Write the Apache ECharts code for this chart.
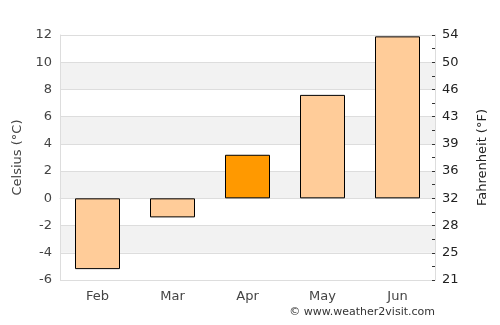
<!DOCTYPE html>
<html><head><meta charset="utf-8">
<script src="https://cdn.jsdelivr.net/npm/echarts@6/dist/echarts.min.js"></script>
<style>html,body{margin:0;padding:0;background:#fff}#c{width:500px;height:325px}</style>
</head><body><div id="c"></div>
<script>
const months = ['Feb','Mar','Apr','May','Jun'];
const celsius = [-5.2, -1.4, 3.2, 7.6, 11.9];
const highlightIndex = 2;
const baseColor = '#ffcc99';
const highlightColor = '#ff9900';
const font = 'DejaVu Sans';

const chart = echarts.init(document.getElementById('c'), null, {renderer:'canvas'});
chart.setOption({
  animation: false,
  backgroundColor: '#fff',
  grid: {left: 60, right: 65, top: 35, bottom: 45, containLabel: false},
  xAxis: {
    type: 'category', data: months,
    axisLine: {show: true, lineStyle: {color: '#ddd'}},
    axisTick: {show: false},
    axisLabel: {color: '#444', fontFamily: font, fontSize: 13, margin: 10}
  },
  yAxis: [{
    type: 'value', min: -6, max: 12, interval: 2, position: 'left',
    name: 'Celsius (°C)', nameLocation: 'middle', nameGap: 34, nameRotate: 90,
    nameTextStyle: {color: '#444', fontFamily: font, fontSize: 13},
    axisLine: {show: true, lineStyle: {color: '#ddd'}},
    axisTick: {show: false},
    axisLabel: {color: '#444', fontFamily: font, fontSize: 13, margin: 8},
    splitLine: {show: true, lineStyle: {color: '#ddd'}},
    splitArea: {show: true, areaStyle: {color: ['#ffffff', '#f2f2f2']}}
  }, {
    type: 'value', min: -6, max: 12, interval: 1, position: 'right',
    name: 'Fahrenheit (°F)', nameLocation: 'middle', nameGap: 41, nameRotate: 90,
    nameTextStyle: {color: '#222', fontFamily: font, fontSize: 13},
    axisLine: {show: true, lineStyle: {color: '#ddd'}},
    axisTick: {show: true, inside: true, length: 3, lineStyle: {color: '#333'}},
    axisLabel: {color: '#222', fontFamily: font, fontSize: 13, margin: 7,
      formatter: v => (Math.round(v) % 2 === 0) ? String(Math.round(v * 9 / 5 + 32)) : ''},
    splitLine: {show: false}
  }],
  series: [{
    type: 'bar', yAxisIndex: 0, barWidth: '60%',
    data: celsius.map((v, i) => ({value: v, itemStyle: {color: i === highlightIndex ? highlightColor : baseColor}})),
    itemStyle: {borderColor: '#000', borderWidth: 1}
  }],
  graphic: [{
    type: 'text', right: 65, top: 307,
    style: {text: '© www.weather2visit.com', fill: '#333', font: '11px "DejaVu Sans"'}
  }]
});
</script></body></html>
